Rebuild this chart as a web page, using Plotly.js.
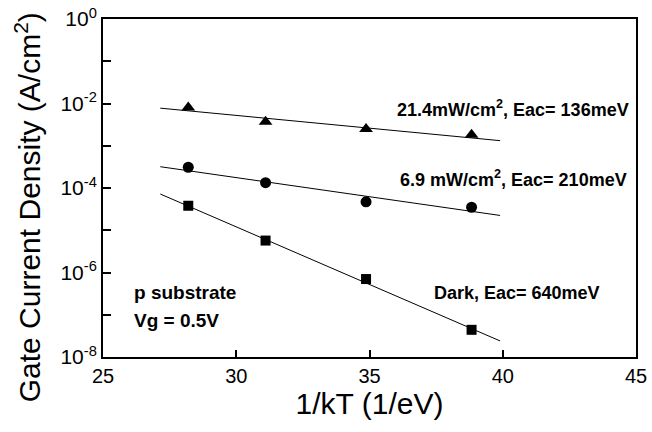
<!DOCTYPE html>
<html>
<head>
<meta charset="utf-8">
<script src="https://cdn.plot.ly/plotly-3.0.1.min.js"></script>
<style>html,body{margin:0;padding:0;background:#fff;}#chart{width:652px;height:432px;}</style>
</head>
<body>
<div id="chart"></div>
<script>
// 1/kT values (1/eV)
var invKT = [28.2, 31.1, 34.87, 38.83];
// Gate current density (A/cm^2)
var light214 = [8.05e-3, 3.7e-3, 2.48e-3, 1.82e-3];
var light69 = [3.1e-4, 1.34e-4, 4.7e-5, 3.5e-5];
var dark = [3.8e-5, 5.7e-6, 7.0e-7, 4.4e-8];
// Arrhenius fit lines (endpoints)
var fitX = [27.15, 39.9];
var fit214 = [7.76e-3, 1.32e-3];
var fit69 = [3.19e-4, 2.24e-5];
var fitDark = [7.2e-5, 2.4e-8];
// Tick labels
var xTicks = [25, 30, 35, 40, 45];
var yTickVals = [1e-8, 1e-7, 1e-6, 1e-5, 1e-4, 1e-3, 1e-2, 1e-1, 1e0];
var yTickText = ['10<sup>-8</sup>', '', '10<sup>-6</sup>', '', '10<sup>-4</sup>', '', '10<sup>-2</sup>', '', '10<sup>0</sup>'];

var F = 'Liberation Sans, Arial, Helvetica, sans-serif';
var lineStyle = {color: '#000', width: 1};

var traces = [
  {x: fitX, y: fit214, mode: 'lines', line: lineStyle, hoverinfo: 'skip'},
  {x: fitX, y: fit69, mode: 'lines', line: lineStyle, hoverinfo: 'skip'},
  {x: fitX, y: fitDark, mode: 'lines', line: lineStyle, hoverinfo: 'skip'},
  {x: invKT, y: light214, mode: 'markers', marker: {symbol: 'triangle-up', size: 12, color: '#000'}},
  {x: invKT, y: light69, mode: 'markers', marker: {symbol: 'circle', size: 11, color: '#000'}},
  {x: invKT, y: dark, mode: 'markers', marker: {symbol: 'square', size: 10, color: '#000'}}
];

var annR = {family: F, size: 18, color: '#000', weight: 'bold'};
var annL = {family: F, size: 19, color: '#000', weight: 'bold'};
var layout = {
  width: 652, height: 432,
  margin: {l: 103, r: 16, t: 19, b: 75},
  paper_bgcolor: '#fff', plot_bgcolor: '#fff',
  showlegend: false,
  font: {family: F, color: '#000'},
  xaxis: {
    range: [25, 45], tickvals: xTicks, ticktext: xTicks.map(String),
    ticks: 'inside', ticklen: 7, tickwidth: 2, tickcolor: '#000',
    showline: true, linewidth: 2, linecolor: '#000', mirror: true,
    showgrid: false, zeroline: false,
    tickfont: {family: F, size: 20, color: '#000'},
    title: {text: '1/kT (1/eV)', font: {family: F, size: 30, color: '#000'}, standoff: 4}
  },
  yaxis: {
    type: 'log', range: [-8, 0], tickvals: yTickVals, ticktext: yTickText,
    ticks: 'inside', ticklen: 8, tickwidth: 2, tickcolor: '#000',
    showline: true, linewidth: 2, linecolor: '#000', mirror: true,
    showgrid: false, zeroline: false,
    tickfont: {family: F, size: 21, color: '#000'}
  },
  annotations: [
    {xref: 'paper', yref: 'paper', x: -0.1407, y: 0.443, xanchor: 'center', yanchor: 'middle', showarrow: false,
     textangle: -90, text: 'Gate Current Density (A/cm<sup>2</sup>)', font: {family: F, size: 30, color: '#000'}},
    {xref: 'paper', yref: 'paper', x: 0.548, y: 0.736, xanchor: 'left', yanchor: 'middle', showarrow: false,
     text: '21.4mW/cm<sup>2</sup>, Eac= 136meV', font: annR},
    {xref: 'paper', yref: 'paper', x: 0.553, y: 0.528, xanchor: 'left', yanchor: 'middle', showarrow: false,
     text: '6.9 mW/cm<sup>2</sup>, Eac= 210meV', font: annR},
    {xref: 'paper', yref: 'paper', x: 0.618, y: 0.189, xanchor: 'left', yanchor: 'middle', showarrow: false,
     text: 'Dark, Eac= 640meV', font: annR},
    {xref: 'paper', yref: 'paper', x: 0.054, y: 0.192, xanchor: 'left', yanchor: 'middle', showarrow: false,
     text: 'p substrate', font: annL},
    {xref: 'paper', yref: 'paper', x: 0.054, y: 0.109, xanchor: 'left', yanchor: 'middle', showarrow: false,
     text: 'Vg = 0.5V', font: annL}
  ]
};

Plotly.newPlot('chart', traces, layout, {displayModeBar: false, staticPlot: true});
</script>
</body>
</html>
